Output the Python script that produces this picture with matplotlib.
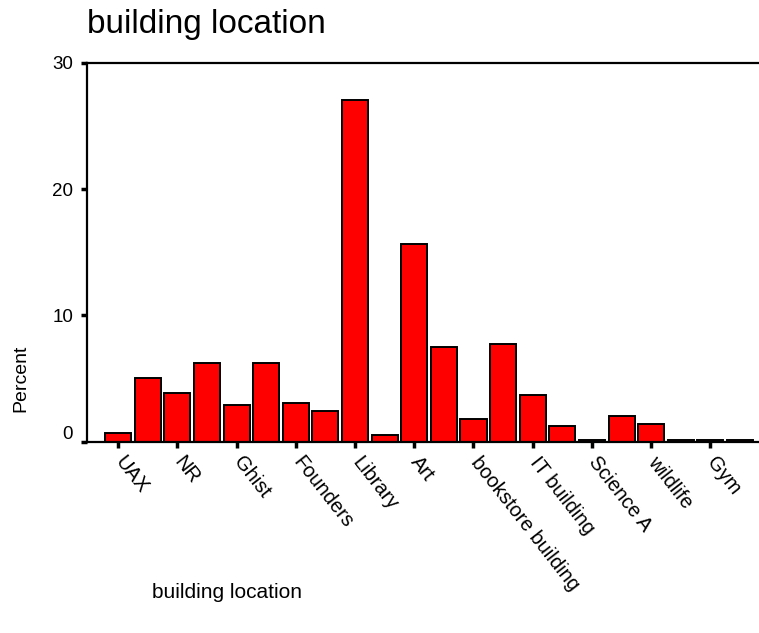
import numpy as np
import matplotlib
matplotlib.use('Agg')
import matplotlib.pyplot as plt
from matplotlib.transforms import ScaledTranslation

plt.rcParams['font.family'] = ['Liberation Sans', 'DejaVu Sans']

# percent per building (22 bars, only every other one is labelled)
percent = [0.66, 5.07, 3.88, 6.2, 2.9, 6.2, 3.04, 2.46, 27.05, 0.53, 15.63,
           7.47, 1.8, 7.73, 3.7, 1.24, 0.13, 2.06, 1.38, 0.13, 0.13, 0.13]
tick_labels = ['UAX', 'NR', 'Ghist', 'Founders', 'Library', 'Art',
               'bookstore building', 'IT building', 'Science A', 'wildlife', 'Gym']
y_ticks = [0, 10, 20, 30]

fig = plt.figure(figsize=(7.59, 6.33), dpi=100)
ax = fig.add_axes([87 / 759, 1 - 441.7 / 633, 1 - 87 / 759, (441.7 - 62.7) / 633])

x = np.arange(len(percent))
ax.bar(x, percent, width=0.88, color='#ff0000', edgecolor='black', linewidth=1.4)

ax.set_xlim(-1.05, 21.64)
ax.set_ylim(0, 30)

ax.set_xticks(x[::2])
ax.set_xticklabels(tick_labels, rotation=-52, ha='left', va='top',
                   rotation_mode='anchor', fontsize=14.5)
ax.set_yticks(y_ticks)
ax.set_yticklabels([str(v) for v in y_ticks], fontsize=13.5)
ax.tick_params(axis='both', direction='out', length=4, width=2.5, color='black')
ax.tick_params(axis='x', pad=0)
ax.tick_params(axis='y', pad=6)

for s in ['left', 'top', 'bottom']:
    ax.spines[s].set_linewidth(1.6)
ax.spines['right'].set_visible(False)

# shift the rotated labels right/down like the original
for lbl in ax.get_xticklabels():
    lbl.set_transform(lbl.get_transform() + ScaledTranslation(8 / 100, -6 / 100, fig.dpi_scale_trans))

# the "0" label sits a bit higher than its tick
lbl0 = ax.get_yticklabels()[0]
lbl0.set_transform(lbl0.get_transform() + ScaledTranslation(0, 9 / 100, fig.dpi_scale_trans))

fig.text(87 / 759, 1 - 33 / 633, 'building location', fontsize=24, va='baseline', ha='left')
fig.text(21 / 759, 1 - 378 / 633, 'Percent', fontsize=14, rotation=90, va='center', ha='center')
fig.text(152 / 759, 1 - 592 / 633, 'building location', fontsize=15, va='center', ha='left')

fig.savefig('out.png', dpi=100)
